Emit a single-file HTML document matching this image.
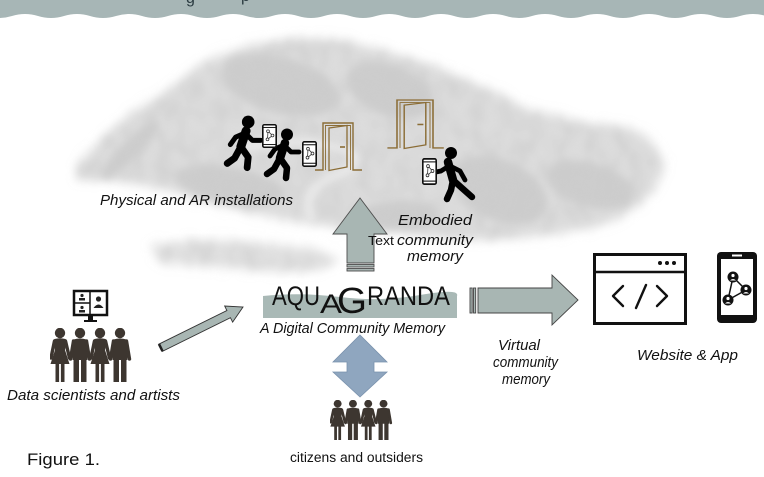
<!DOCTYPE html>
<html><head><meta charset="utf-8"><style>
html,body{margin:0;padding:0;background:#fff;}
svg{display:block;}
text{font-family:"Liberation Sans",sans-serif;}
.it{font-style:italic;fill:#111;}
</style></head><body>
<svg width="764" height="477" viewBox="0 0 764 477" xmlns="http://www.w3.org/2000/svg">
<defs>
<filter id="bl" x="-20%" y="-20%" width="140%" height="140%"><feGaussianBlur stdDeviation="5"/></filter>
<filter id="bl2" x="-20%" y="-20%" width="140%" height="140%"><feGaussianBlur stdDeviation="4"/></filter>
<filter id="tex" filterUnits="userSpaceOnUse" x="0" y="0" width="764" height="477">
<feGaussianBlur in="SourceAlpha" stdDeviation="6" result="ba"/>
<feTurbulence type="fractalNoise" baseFrequency="0.07 0.05" numOctaves="2" seed="7" result="n"/>
<feColorMatrix in="n" type="matrix" values="0 0 0 0 0.6  0 0 0 0 0.6  0 0 0 0 0.6  2.5 0 0 0 -0.9" result="g"/>
<feComposite in="g" in2="ba" operator="in" result="t"/>
<feGaussianBlur in="t" stdDeviation="2.6"/>
</filter>
<symbol id="walker" viewBox="0 0 40 54">
<g stroke="#000" fill="none" stroke-linecap="round" stroke-linejoin="round">
<line x1="22" y1="15" x2="17" y2="30" stroke-width="8.5"/>
<polyline points="17,30 24,40 23,50" stroke-width="6.5"/>
<polyline points="17,30 11,41 4,46" stroke-width="6.5"/>
<polyline points="21,17 12,21 7,28" stroke-width="4.8"/>
<polyline points="21,17 28,24 36,24" stroke-width="4.8"/>
</g>
<circle cx="24" cy="6.5" r="6" fill="#000"/>
</symbol>
<symbol id="phone" viewBox="0 0 15 25" preserveAspectRatio="none">
<rect x="0.8" y="0.8" width="13.4" height="23.4" rx="1.5" fill="#fff" stroke="#111" stroke-width="1.6"/>
<line x1="1.5" y1="3.6" x2="13.5" y2="3.6" stroke="#111" stroke-width="1"/>
<line x1="1.5" y1="21.4" x2="13.5" y2="21.4" stroke="#111" stroke-width="1"/>
<g stroke="#333" stroke-width="0.8" fill="none">
<line x1="6" y1="7.5" x2="10.5" y2="12"/><line x1="10.5" y1="12" x2="5.5" y2="16"/><line x1="6" y1="7.5" x2="5.5" y2="16"/>
<circle cx="6" cy="7.5" r="1.4" fill="#fff"/><circle cx="10.5" cy="12" r="1.4" fill="#fff"/><circle cx="5.5" cy="16" r="1.4" fill="#fff"/>
</g>
</symbol>
<symbol id="group" viewBox="0 0 85 54" preserveAspectRatio="none">
<g fill="#3d3630" stroke="#3d3630" stroke-linecap="round">
<g transform="translate(10,0)">
<circle cx="0" cy="5" r="5.2" stroke="none"/>
<path d="M-5.5,11 Q0,9.5 5.5,11 L6.5,13 L5,22 L9.5,36 L-9.5,36 L-5,22 L-6.5,13 Z" stroke="none"/>
<line x1="-5.5" y1="13" x2="-9" y2="30" stroke-width="3.4" fill="none"/>
<line x1="5.5" y1="13" x2="9.5" y2="30" stroke-width="3.4" fill="none"/>
<rect x="-4.5" y="35" width="3.6" height="19" stroke="none"/><rect x="0.9" y="35" width="3.6" height="19" stroke="none"/>
</g>
<g transform="translate(30,0)">
<circle cx="0" cy="5" r="5.2" stroke="none"/>
<path d="M-6.5,11.5 Q0,9.5 6.5,11.5 L7.5,14 L7.5,32 L-7.5,32 L-7.5,14 Z" stroke="none"/>
<line x1="-6.5" y1="13" x2="-9.5" y2="31" stroke-width="3.4" fill="none"/>
<line x1="6.5" y1="13" x2="9.5" y2="31" stroke-width="3.4" fill="none"/>
<rect x="-6.5" y="31" width="5.5" height="23" stroke="none"/><rect x="1" y="31" width="5.5" height="23" stroke="none"/>
</g>
<g transform="translate(50,0)">
<circle cx="0" cy="5" r="5.2" stroke="none"/>
<path d="M-5.5,11 Q0,9.5 5.5,11 L6.5,13 L5,22 L9.5,36 L-9.5,36 L-5,22 L-6.5,13 Z" stroke="none"/>
<line x1="-5.5" y1="13" x2="-9" y2="30" stroke-width="3.4" fill="none"/>
<line x1="5.5" y1="13" x2="9.5" y2="30" stroke-width="3.4" fill="none"/>
<rect x="-4.5" y="35" width="3.6" height="19" stroke="none"/><rect x="0.9" y="35" width="3.6" height="19" stroke="none"/>
</g>
<g transform="translate(70,0)">
<circle cx="0" cy="5" r="5.2" stroke="none"/>
<path d="M-6.5,11.5 Q0,9.5 6.5,11.5 L7.5,14 L7.5,32 L-7.5,32 L-7.5,14 Z" stroke="none"/>
<line x1="-6.5" y1="13" x2="-9.5" y2="31" stroke-width="3.4" fill="none"/>
<line x1="6.5" y1="13" x2="9.5" y2="31" stroke-width="3.4" fill="none"/>
<rect x="-6.5" y="31" width="5.5" height="23" stroke="none"/><rect x="1" y="31" width="5.5" height="23" stroke="none"/>
</g>
</g>
</symbol>
</defs>

<!-- blurred map background -->
<g>
<polygon filter="url(#bl)" fill="#dcdcdc" points="205,62 240,48 290,38 340,40 390,52 440,68 485,88 530,110 580,122 630,128 655,145 665,165 650,195 625,215 590,228 545,235 490,240 440,238 400,232 350,228 300,222 250,212 200,200 160,188 110,180 78,180 76,168 100,140 130,115 165,92"/>
<polygon filter="url(#bl)" fill="#e0e0e0" points="150,245 200,240 260,243 320,250 340,262 300,272 230,268 160,262"/>
<g filter="url(#bl2)" fill="#cdcdcd">
<ellipse cx="280" cy="85" rx="60" ry="28" transform="rotate(15 280 85)"/>
<ellipse cx="390" cy="90" rx="45" ry="25" transform="rotate(20 390 90)"/>
<ellipse cx="230" cy="185" rx="55" ry="18" transform="rotate(10 230 185)"/>
<ellipse cx="500" cy="190" rx="50" ry="30" transform="rotate(25 500 190)"/>
<ellipse cx="590" cy="185" rx="45" ry="22" transform="rotate(15 590 185)"/>
<ellipse cx="130" cy="150" rx="40" ry="9" transform="rotate(-45 130 150)"/>
<ellipse cx="400" cy="215" rx="40" ry="14"/>
</g>
<g filter="url(#tex)" opacity="0.5">
<polygon fill="#000" points="205,62 240,48 290,38 340,40 390,52 440,68 485,88 530,110 580,122 630,128 655,145 665,165 650,195 625,215 590,228 545,235 490,240 440,238 400,232 350,228 300,222 250,212 200,200 160,188 110,180 78,180 76,168 100,140 130,115 165,92"/>
<polygon fill="#000" points="150,245 200,240 260,243 320,250 340,262 300,272 230,268 160,262"/>
</g>
<path d="M240,148 Q300,135 345,150 Q372,162 330,178 Q300,192 312,220" stroke="#f0f0f0" stroke-width="7" fill="none" filter="url(#bl2)" opacity="0.8"/>
</g>

<!-- header band -->
<path fill="#a7b6b6" d="M-14,0 L-14,16 Q-1,20 12,16 T38,16 T64,16 T90,16 T116,16 T142,16 T168,16 T194,16 T220,16 T246,16 T272,16 T298,16 T324,16 T350,16 T376,16 T402,16 T428,16 T454,16 T480,16 T506,16 T532,16 T558,16 T584,16 T610,16 T636,16 T662,16 T688,16 T714,16 T740,16 T766,16 T792,16 L792,0 Z"/>
<text x="186" y="3" font-size="16" fill="#2a3a40">g</text>
<text x="241" y="1" font-size="16" fill="#2a3a40">p</text>

<!-- physical installations -->
<use href="#walker" x="223" y="115" width="42" height="57"/>
<use href="#walker" x="263" y="128" width="40" height="54"/>
<use href="#phone" x="262" y="124" width="15" height="24"/>
<use href="#phone" x="302" y="141" width="15" height="26"/>
<g stroke="#8b6d36" fill="none">
<path d="M315,170 H323 V123 H353 V170 H362" stroke-width="1.4"/>
<path d="M325.5,170 V125.5 H350.5 V170" stroke-width="0.9"/>
<path d="M329,128 L347,125.5 L347,167 L329,170.5 Z" stroke-width="1.3"/>
<line x1="340" y1="147" x2="345" y2="147" stroke-width="1.6"/>
</g>
<g stroke="#8b6d36" fill="none" transform="translate(397,100) scale(1.2,1.02) translate(-323,-123)">
<path d="M315,170 H323 V123 H353 V170 H362" stroke-width="1.3"/>
<path d="M325.5,170 V125.5 H350.5 V170" stroke-width="0.8"/>
<path d="M329,128 L347,125.5 L347,167 L329,170.5 Z" stroke-width="1.2"/>
<line x1="340" y1="147" x2="345" y2="147" stroke-width="1.5"/>
</g>
<!-- right walker -->
<g stroke="#000" fill="none" stroke-linecap="round" stroke-linejoin="round">
<line x1="448" y1="162" x2="453" y2="180" stroke-width="8.5"/>
<polyline points="453,180 463,189 472,197" stroke-width="6.5"/>
<polyline points="453,180 451,190 447,199" stroke-width="6.5"/>
<polyline points="449,166 441,171 436,172" stroke-width="4.8"/>
<polyline points="450,166 460,171 465,180" stroke-width="4.8"/>
</g>
<circle cx="451" cy="153" r="6" fill="#000"/>
<use href="#phone" x="422" y="158" width="15" height="27"/>

<text class="it" x="100" y="205" font-size="14.5" textLength="193" lengthAdjust="spacingAndGlyphs">Physical and AR installations</text>

<!-- up arrow -->
<g fill="#a8b6b3" stroke="#4d4d4d" stroke-width="0.9">
<polygon points="360,198 387,234 374,234 374,263 347,263 347,234 333,234"/>
<rect x="347" y="264.5" width="27" height="2.5"/>
<rect x="347" y="268.5" width="27" height="2.5"/>
</g>

<text class="it" x="398" y="225" font-size="15" textLength="74" lengthAdjust="spacingAndGlyphs">Embodied</text>
<text x="368" y="245" font-size="13" fill="#111" textLength="26" lengthAdjust="spacingAndGlyphs">Text</text>
<text class="it" x="397" y="245" font-size="15" textLength="76" lengthAdjust="spacingAndGlyphs">community</text>
<text class="it" x="407" y="261" font-size="15" textLength="56" lengthAdjust="spacingAndGlyphs">memory</text>

<!-- logo -->
<path d="M263,296 Q300,292 340,297 T420,295 T457,296 V318 H263 Z" fill="#a9b9b6"/>
<g fill="#111" font-family="'Liberation Sans Narrow','Liberation Sans',sans-serif">
<text x="272" y="305" font-size="27" textLength="48" lengthAdjust="spacingAndGlyphs">AQU</text>
<text x="320" y="313" font-size="27" textLength="22" lengthAdjust="spacingAndGlyphs">A</text>
<text x="337" y="313" font-size="36" textLength="30" lengthAdjust="spacingAndGlyphs">G</text>
<text x="367" y="305" font-size="27" textLength="83" lengthAdjust="spacingAndGlyphs">RANDA</text>
</g>
<text class="it" x="260" y="333" font-size="14.5" textLength="185" lengthAdjust="spacingAndGlyphs">A Digital Community Memory</text>

<!-- diagonal arrow -->
<g transform="translate(243,307) rotate(-26.3)">
<polygon points="-92,-4 -16,-4 -16,-9 0,0 -16,9 -16,4 -92,4" fill="#a8b6b3" stroke="#333" stroke-width="0.9"/>
<rect x="-93" y="-4" width="2.5" height="8" fill="#222"/>
</g>

<!-- double arrow -->
<polygon points="360,335 387,362 374,362 374,372 387,372 360,397 333,372 347,372 347,362 333,362" fill="#8fa6bf" stroke="#7a92ad" stroke-width="0.8"/>

<!-- right arrow -->
<g fill="#a8b6b3" stroke="#444" stroke-width="0.9">
<polygon points="478,288 552,288 552,275 578,300 552,325 552,313 478,313"/>
<rect x="470" y="288" width="2.2" height="25"/>
<rect x="473.5" y="288" width="2.2" height="25"/>
</g>

<text class="it" x="498" y="350" font-size="15" textLength="42" lengthAdjust="spacingAndGlyphs">Virtual</text>
<text class="it" x="493" y="367" font-size="15" textLength="65" lengthAdjust="spacingAndGlyphs">community</text>
<text class="it" x="502" y="384" font-size="15" textLength="48" lengthAdjust="spacingAndGlyphs">memory</text>

<!-- browser icon -->
<rect x="594.5" y="254.5" width="91" height="69" fill="#fff" stroke="#111" stroke-width="3"/>
<line x1="594" y1="272" x2="686" y2="272" stroke="#111" stroke-width="2.5"/>
<circle cx="660" cy="263" r="2" fill="#111"/><circle cx="667" cy="263" r="2" fill="#111"/><circle cx="674" cy="263" r="2" fill="#111"/>
<g stroke="#111" stroke-width="2.4" fill="none" stroke-linecap="round" stroke-linejoin="round">
<polyline points="623,286 613,296 623,306"/>
<line x1="646" y1="285" x2="636" y2="308"/>
<polyline points="657,286 667,296 657,306"/>
</g>

<!-- phone icon -->
<rect x="717" y="252" width="40" height="71" rx="4" fill="#111"/>
<rect x="721" y="259" width="32" height="56" fill="#fff"/>
<rect x="732" y="254.5" width="10" height="2" fill="#fff"/>
<g stroke="#111" stroke-width="1.5">
<line x1="733" y1="277" x2="746" y2="290"/><line x1="746" y1="290" x2="728" y2="300"/><line x1="733" y1="277" x2="728" y2="300"/>
</g>
<g fill="#111">
<circle cx="733" cy="277" r="5.5"/><circle cx="746" cy="290" r="5.5"/><circle cx="728" cy="300" r="5.5"/>
</g>
<g fill="#fff">
<circle cx="733" cy="275.5" r="1.6"/><path d="M730,280.5 Q733,277.5 736,280.5 Z"/>
<circle cx="746" cy="288.5" r="1.6"/><path d="M743,293.5 Q746,290.5 749,293.5 Z"/>
<circle cx="728" cy="298.5" r="1.6"/><path d="M725,303.5 Q728,300.5 731,303.5 Z"/>
</g>
<text class="it" x="637" y="360" font-size="15" textLength="101" lengthAdjust="spacingAndGlyphs">Website &amp; App</text>

<!-- data scientists -->
<rect x="74" y="291" width="33" height="24" fill="#fff" stroke="#111" stroke-width="2.5"/>
<line x1="90" y1="291" x2="90" y2="315" stroke="#111" stroke-width="1.5"/>
<line x1="74" y1="303" x2="90" y2="303" stroke="#111" stroke-width="1.5"/>
<rect x="88" y="315" width="5" height="5" fill="#111"/>
<rect x="84" y="320" width="13" height="2" fill="#111"/>
<g fill="#222">
<circle cx="82" cy="295.5" r="1.6"/><rect x="79" y="298" width="6" height="2.5"/>
<circle cx="82" cy="307.5" r="1.6"/><rect x="79" y="310" width="6" height="2.5"/>
<circle cx="98.5" cy="299" r="2.6"/><path d="M93.5,308 Q98.5,301 103.5,308 Z"/>
</g>
<use href="#group" x="50" y="328" width="85" height="54"/>
<text class="it" x="7" y="400" font-size="15" textLength="173" lengthAdjust="spacingAndGlyphs">Data scientists and artists</text>

<!-- citizens -->
<use href="#group" x="330" y="400" width="65" height="40"/>
<text x="290" y="462" font-size="13.5" fill="#111" textLength="133" lengthAdjust="spacingAndGlyphs">citizens and outsiders</text>

<text x="27" y="465" font-size="17" fill="#111" textLength="73" lengthAdjust="spacingAndGlyphs">Figure 1.</text>
</svg>
</body></html>
